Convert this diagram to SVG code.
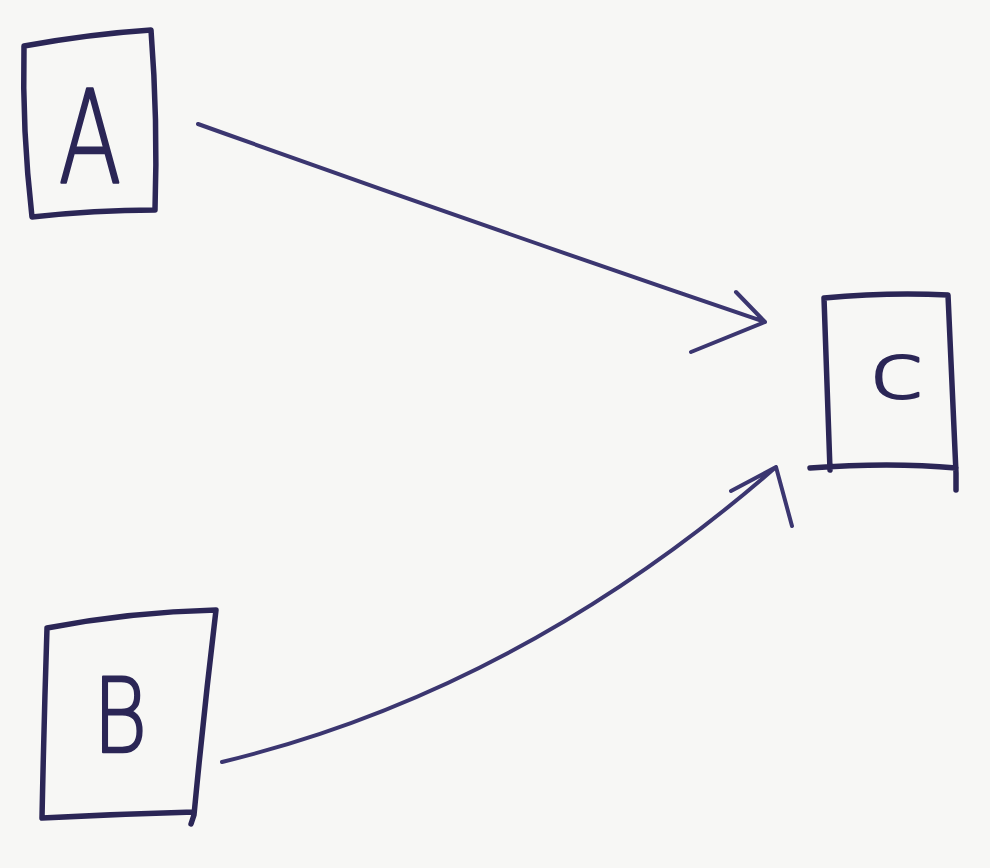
<svg xmlns="http://www.w3.org/2000/svg" width="990" height="868" viewBox="0 0 990 868">
<style>
.box{fill:none;stroke:#2b2656;stroke-width:5.5;stroke-linecap:round;stroke-linejoin:round}
.edge{fill:none;stroke:#3b3670;stroke-width:4;stroke-linecap:round;stroke-linejoin:round}
.lbl{font-family:"DejaVu Sans","Liberation Sans",sans-serif;fill:#2b2656;stroke:#2b2656;stroke-width:2.5;stroke-linejoin:round;text-anchor:middle;font-weight:200}
</style>
<rect width="990" height="868" fill="#f7f7f5"/>
<g id="node-A">
<path class="box" d="M24,46 Q90,34 151,30 Q158,120 155,210 Q95,210 32,217 Q22,130 24,46 Z"/>
<text class="lbl" font-size="128" transform="translate(90,182) scale(0.72,1)">A</text>
</g>
<g id="node-B">
<path class="box" d="M47,628 Q130,612 216,610 Q204,710 194,815 L191,824 M194,812 Q118,814 42,818 Q44,720 47,628"/>
<text class="lbl" font-size="104" transform="translate(120,752) scale(0.8,1)">B</text>
</g>
<g id="node-C">
<path class="box" d="M824,298 Q888,292 948,295 Q952,385 956,473 L956,490 M956,468 Q890,462 810,468 M830,470 Q827,385 824,298"/>
<text class="lbl" font-size="90" transform="translate(897,398) scale(1.1,0.85)">c</text>
</g>
<g id="connectors">
<path class="edge" d="M198,124 Q480,225 765,322 M736,292 L765,322 L691,352"/>
<path class="edge" d="M222,762 Q520,690 776,467 M731,491 L776,467 L792,526"/>
</g>
</svg>
